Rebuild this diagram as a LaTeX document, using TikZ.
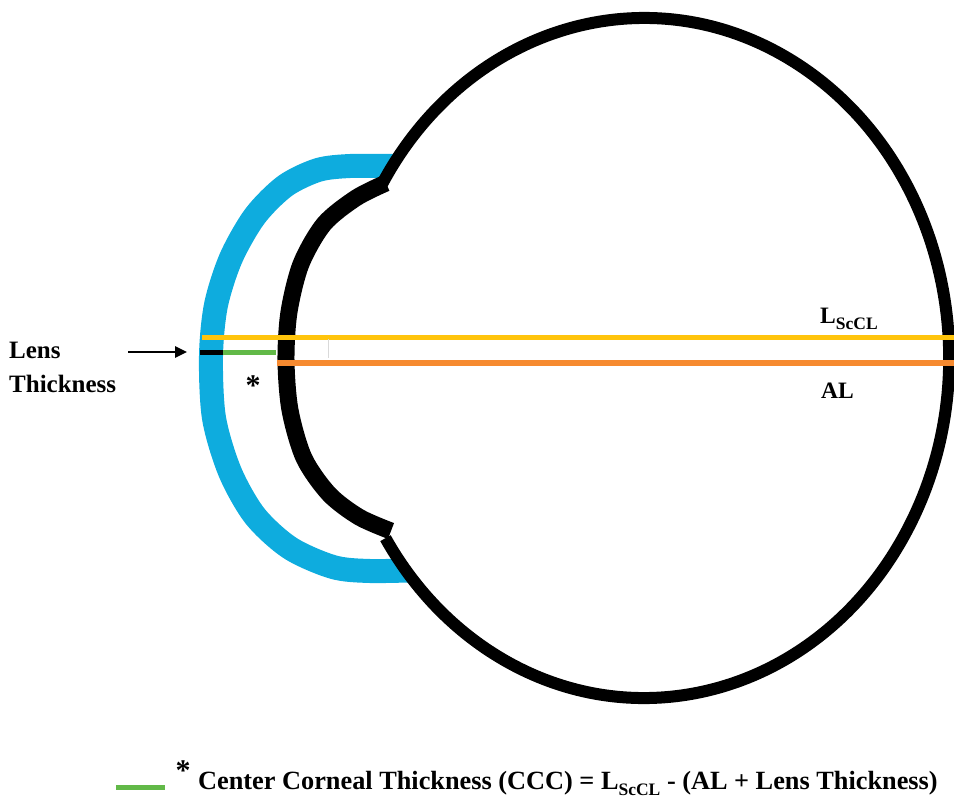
\documentclass[tikz,border=0pt]{standalone}
\usepackage{fontspec}
\setmainfont{Liberation Serif}
\usetikzlibrary{arrows.meta}

\definecolor{lensblue}{RGB}{14,172,222}
\definecolor{scclyellow}{RGB}{255,196,12}
\definecolor{alorange}{RGB}{246,138,48}
\definecolor{cccgreen}{RGB}{98,185,72}

\begin{document}
\begin{tikzpicture}[
  x=1pt, y=-1pt,
  lbl/.style={font=\bfseries\fontsize{23.5}{34}\selectfont, inner sep=0pt},
  starmark/.style={font=\bfseries\fontsize{30}{30}\selectfont, inner sep=0pt, anchor=base},
  axisline/.style={line width=5pt},
  arrow/.style={-{Triangle[length=12pt, width=11pt]}, line width=2.5pt}
]
  \useasboundingbox (0,0) rectangle (954,798);

  % contact lens (its right ends get hidden by the globe)
  \draw[lensblue, line width=24pt] plot[smooth] coordinates {
    (425,166) (393,166) (350,166) (318,170) (285,186) (255,216) (231,258)
    (216,305) (211,356) (214,418) (230,472) (255,516) (290,548) (333,567)
    (370,571) (425,570)};
  \fill[white] (644,358) ellipse[x radius=305, y radius=340];

  % cornea
  \draw[line width=17pt] plot[smooth] coordinates {
    (386,183) (356,198) (324,224) (301,264) (289,312) (286,360) (290,410)
    (304,458) (329,494) (359,517) (391,531)};

  % globe
  \coordinate (limbus) at (380,188);
  \draw[line width=12pt] (limbus)
    arc[start angle=-150, end angle=148, x radius=305, y radius=340];

  % measured lengths
  \coordinate (lensfront) at (200,352);
  \coordinate (lensback)  at (223,352);
  \coordinate (corneafront) at (276,352);
  \coordinate (scclstart) at (202,337);
  \coordinate (scclend)   at (954,337);
  \coordinate (alstart)   at (277,363);
  \coordinate (alend)     at (954,363);
  \draw[black, axisline] (lensfront) -- (lensback);
  \draw[cccgreen, axisline] (lensback) -- (corneafront);
  \draw[scclyellow, axisline] (scclstart) -- (scclend);
  \draw[alorange, line width=6pt] (alstart) -- (alend);
  \draw[gray!30, line width=0.8pt] (328,339) -- (328,358);

  % labels
  \node[lbl, anchor=west, align=left, font=\bfseries\fontsize{25}{34}\selectfont]
    (lenslbl) at (9,367) {Lens\\Thickness};
  \coordinate (arrowtail) at (128,352);
  \coordinate (arrowtip)  at (187,352);
  \draw[arrow] (arrowtail) -- (arrowtip);
  \node[starmark] (cccstar) at (253,395) {*};
  \node[lbl, anchor=base west] (sccllbl) at (820,323)
    {L\raisebox{-6pt}{\fontsize{17.5}{17.5}\selectfont ScCL}};
  \node[lbl, anchor=base west] (allbl) at (821,398) {AL};

  % key
  \coordinate (keystart) at (116,787);
  \coordinate (keyend)   at (165,787);
  \draw[cccgreen, axisline] (keystart) -- (keyend);
  \node[starmark] (keystar) at (183,780) {*};
  \node[lbl, anchor=base west, font=\bfseries\fontsize{26.3}{30}\selectfont]
    (keytext) at (198,789) {Center Corneal Thickness (CCC) =
    L\raisebox{-6pt}{\fontsize{17.5}{17.5}\selectfont ScCL} - (AL + Lens Thickness)};
\end{tikzpicture}
\end{document}
